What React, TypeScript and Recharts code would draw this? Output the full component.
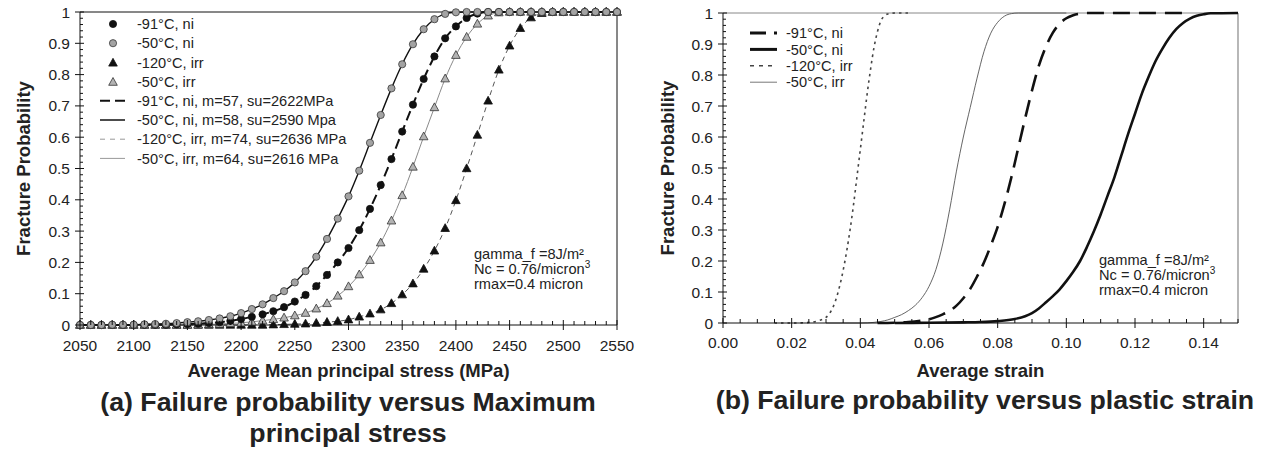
import React from 'react';
import { LineChart, Line, XAxis, YAxis, ReferenceLine, Legend } from 'recharts';

const FONT = '"Liberation Sans", Arial, Helvetica, sans-serif';
const TXT = '#222';

// ---------- Panel (a): stress categories (MPa) ----------
const stressCategories = [
  2050, 2060, 2070, 2080, 2090, 2100, 2110, 2120, 2130, 2140,
  2150, 2160, 2170, 2180, 2190, 2200, 2210, 2220, 2230, 2240,
  2250, 2260, 2270, 2280, 2290, 2300, 2310, 2320, 2330, 2340,
  2350, 2360, 2370, 2380, 2390, 2400, 2410, 2420, 2430, 2440,
  2450, 2460, 2470, 2480, 2490, 2500, 2510, 2520, 2530, 2540, 2550,
];

// -91°C, ni (black circles)
const probNi91 = [
  0, 0, 0, 0, 0, 0, 0.001, 0.001, 0.001, 0.002,
  0.003, 0.004, 0.006, 0.009, 0.013, 0.019, 0.026, 0.034, 0.044, 0.057,
  0.075, 0.096, 0.124, 0.160, 0.200, 0.246, 0.303, 0.371, 0.447, 0.530,
  0.618, 0.704, 0.786, 0.858, 0.916, 0.954, 0.981, 0.995, 1, 1,
  1, 1, 1, 1, 1, 1, 1, 1, 1, 1, 1,
];
// -50°C, ni (grey circles)
const probNi50 = [
  0, 0, 0, 0.001, 0.001, 0.001, 0.002, 0.003, 0.004, 0.006,
  0.009, 0.012, 0.016, 0.021, 0.028, 0.038, 0.051, 0.066, 0.086, 0.108,
  0.136, 0.172, 0.218, 0.275, 0.340, 0.411, 0.493, 0.582, 0.671, 0.756,
  0.833, 0.897, 0.945, 0.977, 0.994, 0.999, 1, 1, 1, 1,
  1, 1, 1, 1, 1, 1, 1, 1, 1, 1, 1,
];
// -120°C, irr (black triangles)
const probIrr120 = [
  0, 0, 0, 0, 0, 0, 0, 0, 0, 0,
  0, 0, 0, 0, 0, 0, 0, 0, 0.001, 0.002,
  0.003, 0.004, 0.006, 0.009, 0.012, 0.017, 0.026, 0.036, 0.049, 0.069,
  0.097, 0.132, 0.179, 0.237, 0.309, 0.398, 0.500, 0.607, 0.716, 0.815,
  0.892, 0.948, 0.982, 0.996, 1, 1, 1, 1, 1, 1, 1,
];
// -50°C, irr (grey triangles)
const probIrr50 = [
  0, 0, 0, 0, 0, 0, 0, 0, 0, 0,
  0, 0.001, 0.002, 0.003, 0.005, 0.007, 0.010, 0.014, 0.018, 0.023,
  0.030, 0.038, 0.052, 0.069, 0.093, 0.123, 0.161, 0.207, 0.263, 0.333,
  0.414, 0.505, 0.602, 0.695, 0.787, 0.862, 0.920, 0.962, 0.988, 0.998,
  1, 1, 1, 1, 1, 1, 1, 1, 1, 1, 1,
];

const stressMajorTicks = [2050, 2100, 2150, 2200, 2250, 2300, 2350, 2400, 2450, 2500, 2550];
const stressAllTicks = stressCategories;

const leftData = stressCategories.map((s, i) => ({
  stress: s,
  ni91: probNi91[i],
  ni50: probNi50[i],
  irr120: probIrr120[i],
  irr50: probIrr50[i],
}));

// ---------- Panel (b): strain curves ----------
const strainNi91 = [0.045, 0.050, 0.054, 0.058, 0.060, 0.062, 0.064, 0.066, 0.068, 0.070, 0.072, 0.074, 0.076, 0.078, 0.080, 0.082, 0.084, 0.086, 0.088, 0.090, 0.092, 0.094, 0.096, 0.098, 0.100, 0.102, 0.104, 0.106, 0.120, 0.135];
const curveNi91 = [0, 0.001, 0.003, 0.008, 0.012, 0.019, 0.028, 0.039, 0.056, 0.080, 0.110, 0.150, 0.195, 0.250, 0.310, 0.385, 0.470, 0.565, 0.660, 0.750, 0.830, 0.890, 0.935, 0.965, 0.983, 0.993, 0.998, 1, 1, 1];

const strainNi50 = [0.050, 0.060, 0.070, 0.075, 0.080, 0.085, 0.088, 0.090, 0.092, 0.094, 0.096, 0.098, 0.100, 0.102, 0.104, 0.106, 0.108, 0.110, 0.112, 0.114, 0.116, 0.118, 0.120, 0.122, 0.124, 0.126, 0.128, 0.130, 0.132, 0.134, 0.136, 0.138, 0.140, 0.142, 0.150];
const curveNi50 = [0, 0.001, 0.002, 0.003, 0.006, 0.013, 0.022, 0.032, 0.047, 0.066, 0.086, 0.108, 0.135, 0.165, 0.200, 0.245, 0.295, 0.350, 0.410, 0.470, 0.540, 0.610, 0.675, 0.740, 0.795, 0.845, 0.885, 0.920, 0.948, 0.968, 0.982, 0.991, 0.996, 0.999, 1];

const strainIrr120 = [0.015, 0.020, 0.024, 0.026, 0.028, 0.030, 0.031, 0.032, 0.033, 0.034, 0.035, 0.036, 0.037, 0.038, 0.039, 0.040, 0.041, 0.042, 0.043, 0.044, 0.045, 0.046, 0.047, 0.048, 0.050, 0.055];
const curveIrr120 = [0, 0, 0.001, 0.003, 0.008, 0.018, 0.030, 0.050, 0.080, 0.120, 0.170, 0.230, 0.300, 0.380, 0.470, 0.560, 0.650, 0.740, 0.820, 0.890, 0.940, 0.975, 0.990, 0.997, 1, 1];

const strainIrr50 = [0.030, 0.040, 0.044, 0.046, 0.048, 0.050, 0.052, 0.054, 0.056, 0.058, 0.060, 0.062, 0.064, 0.066, 0.068, 0.070, 0.072, 0.074, 0.076, 0.078, 0.080, 0.082, 0.084, 0.086, 0.100];
const curveIrr50 = [0, 0, 0.002, 0.005, 0.010, 0.018, 0.027, 0.040, 0.057, 0.082, 0.118, 0.172, 0.255, 0.365, 0.490, 0.600, 0.695, 0.790, 0.875, 0.935, 0.970, 0.990, 0.998, 1, 1];

const strainMajorTicks = [0, 0.02, 0.04, 0.06, 0.08, 0.1, 0.12, 0.14];
const strainAllTicks = Array.from({ length: 31 }, (_, i) => +(i * 0.005).toFixed(3));

const toPts = (xs: number[], ys: number[]) => xs.map((x, i) => ({ x, p: ys[i] }));
const dataNi91 = toPts(strainNi91, curveNi91);
const dataNi50 = toPts(strainNi50, curveNi50);
const dataIrr120 = toPts(strainIrr120, curveIrr120);
const dataIrr50 = toPts(strainIrr50, curveIrr50);

// ---------- shared probability ticks ----------
const probMajorTicks = [0, 0.1, 0.2, 0.3, 0.4, 0.5, 0.6, 0.7, 0.8, 0.9, 1];
const probAllTicks = Array.from({ length: 51 }, (_, i) => +(i * 0.02).toFixed(2));

const leftLegendLabels = [
  '-91°C, ni',
  '-50°C, ni',
  '-120°C, irr',
  '-50°C, irr',
  '-91°C, ni, m=57, su=2622MPa',
  '-50°C, ni, m=58, su=2590 Mpa',
  '-120°C, irr, m=74, su=2636 MPa',
  '-50°C, irr, m=64, su=2616 MPa',
];
const rightLegendLabels = ['-91°C, ni', '-50°C, ni', '-120°C, irr', '-50°C, irr'];
const noteLines = ['gamma_f =8J/m²', 'Nc = 0.76/micron', 'rmax=0.4 micron'];

// ---------- marker shapes ----------
function circlePath(cx: number, cy: number, fill: string, stroke: string, key?: any) {
  return <circle key={key} cx={cx} cy={cy} r={3.6} fill={fill} stroke={stroke} strokeWidth={0.8} />;
}
function triPath(cx: number, cy: number, fill: string, stroke: string, key?: any) {
  return (
    <polygon
      key={key}
      points={`${cx},${cy - 4.6} ${cx - 4.3},${cy + 3.2} ${cx + 4.3},${cy + 3.2}`}
      fill={fill}
      stroke={stroke}
      strokeWidth={0.8}
    />
  );
}
const dotBlackCircle = (p: any) => (p.cx == null ? <g key={p.index} /> : circlePath(p.cx, p.cy, '#111', '#111', p.index));
const dotGreyCircle = (p: any) => (p.cx == null ? <g key={p.index} /> : circlePath(p.cx, p.cy, '#a3a3a3', '#3a3a3a', p.index));
const dotBlackTri = (p: any) => (p.cx == null ? <g key={p.index} /> : triPath(p.cx, p.cy, '#111', '#111', p.index));
const dotGreyTri = (p: any) => (p.cx == null ? <g key={p.index} /> : triPath(p.cx, p.cy, '#b3b3b3', '#333', p.index));

// ---------- tick renderers ----------
function StressTick(props: any) {
  const { x, y, payload } = props;
  const v = payload.value;
  const major = stressMajorTicks.includes(v);
  return (
    <g>
      <line x1={x} x2={x} y1={major ? y - 5 : y - 4} y2={major ? y + 5 : y} stroke="#111" strokeWidth={1} />
      {major && (
        <text x={x} y={y + 26} textAnchor="middle" fontSize={15.5} fill={TXT} fontFamily={FONT}>
          {String(v)}
        </text>
      )}
    </g>
  );
}
function StrainTick(props: any) {
  const { x, y, payload } = props;
  const v = payload.value;
  const major = strainMajorTicks.some((m) => Math.abs(m - v) < 1e-6);
  return (
    <g>
      <line x1={x} x2={x} y1={major ? y - 5 : y - 4} y2={major ? y + 5 : y} stroke="#111" strokeWidth={1} />
      {major && (
        <text x={x} y={y + 25} textAnchor="middle" fontSize={15.5} fill={TXT} fontFamily={FONT}>
          {v.toFixed(2)}
        </text>
      )}
    </g>
  );
}
function ProbTick(props: any) {
  const { x, y, payload } = props;
  const v = payload.value;
  const major = probMajorTicks.some((m) => Math.abs(m - v) < 1e-6);
  return (
    <g>
      <line x1={major ? x - 5 : x} x2={major ? x + 4 : x + 3} y1={y} y2={y} stroke="#111" strokeWidth={1} />
      {major && (
        <text x={x - 10} y={y} dy="0.36em" textAnchor="end" fontSize={15.5} fill={TXT} fontFamily={FONT}>
          {String(v)}
        </text>
      )}
    </g>
  );
}

// ---------- legends ----------
function LeftLegend() {
  const rowY = (i: number) => 14 + i * 19.2;
  const tx = 42;
  return (
    <svg width={280} height={170} style={{ overflow: 'visible' }}>
      {circlePath(18, rowY(0), '#111', '#111')}
      {circlePath(18, rowY(1), '#a3a3a3', '#3a3a3a')}
      {triPath(18, rowY(2) + 0.5, '#111', '#111')}
      {triPath(18, rowY(3) + 0.5, '#b3b3b3', '#333')}
      <line x1={5} x2={30} y1={rowY(4)} y2={rowY(4)} stroke="#111" strokeWidth={2} strokeDasharray="10 5" />
      <line x1={5} x2={30} y1={rowY(5)} y2={rowY(5)} stroke="#111" strokeWidth={1.5} />
      <line x1={5} x2={30} y1={rowY(6)} y2={rowY(6)} stroke="#999" strokeWidth={1} strokeDasharray="5 5" />
      <line x1={5} x2={30} y1={rowY(7)} y2={rowY(7)} stroke="#999" strokeWidth={1} />
      {leftLegendLabels.map((l, i) => (
        <text key={l} x={tx} y={rowY(i)} dy="0.35em" fontSize={14.6} fill={TXT} fontFamily={FONT}>
          {l}
        </text>
      ))}
    </svg>
  );
}
function RightLegend() {
  const rowY = (i: number) => 13 + i * 16.4;
  const tx = 46;
  return (
    <svg width={160} height={80} style={{ overflow: 'visible' }}>
      <line x1={10} x2={37} y1={rowY(0)} y2={rowY(0)} stroke="#111" strokeWidth={3} strokeDasharray="16 8" />
      <line x1={10} x2={37} y1={rowY(1)} y2={rowY(1)} stroke="#111" strokeWidth={3} />
      <line x1={10} x2={37} y1={rowY(2)} y2={rowY(2)} stroke="#444" strokeWidth={1.6} strokeDasharray="4 5" />
      <line x1={10} x2={37} y1={rowY(3)} y2={rowY(3)} stroke="#777" strokeWidth={1} />
      {rightLegendLabels.map((l, i) => (
        <text key={l} x={tx} y={rowY(i)} dy="0.35em" fontSize={14.6} fill={TXT} fontFamily={FONT}>
          {l}
        </text>
      ))}
    </svg>
  );
}

function Note({ x, y }: { x: number; y: number }) {
  return (
    <g fontFamily={FONT} fontSize={14.6} fill={TXT}>
      <text x={x} y={y}>{noteLines[0]}</text>
      <text x={x} y={y + 14.8}>
        {noteLines[1]}
        <tspan dy={-6} fontSize={10}>3</tspan>
      </text>
      <text x={x} y={y + 29.8}>{noteLines[2]}</text>
    </g>
  );
}

const xTitle = (text: string, dy: number) => (p: any) => {
  const vb = p.viewBox || {};
  return (
    <text x={vb.x + vb.width / 2} y={vb.y + dy} textAnchor="middle" fontSize={18.5} fontWeight="bold" fill={TXT} fontFamily={FONT}>
      {text}
    </text>
  );
};
const yTitle = (text: string, cxOff: number) => (p: any) => {
  const vb = p.viewBox || {};
  const cx = vb.x + cxOff;
  const cy = vb.y + vb.height / 2;
  return (
    <text
      x={cx}
      y={cy}
      transform={`rotate(-90 ${cx} ${cy})`}
      textAnchor="middle"
      dominantBaseline="central"
      fontSize={18.5}
      fontWeight="bold"
      fill={TXT}
      fontFamily={FONT}
    >
      {text}
    </text>
  );
};

export default function App() {
  return (
    <div style={{ position: 'absolute', left: 0, top: 0, width: 1266, height: 454, background: '#fff', fontFamily: FONT }}>
      {/* Panel (a) */}
      <div style={{ position: 'absolute', left: 0, top: 0 }}>
        <LineChart width={640} height={454} data={leftData} margin={{ top: 12, right: 23, bottom: 89, left: 10 }}>
          <XAxis
            dataKey="stress"
            type="number"
            domain={[2050, 2550]}
            ticks={stressAllTicks}
            interval={0}
            tickSize={0}
            tickMargin={0}
            tickLine={false}
            tick={<StressTick />}
            height={40}
            axisLine={{ stroke: '#111' }}
            label={{ content: xTitle('Average Mean principal stress (MPa)', 52) }}
          />
          <YAxis
            type="number"
            domain={[0, 1]}
            ticks={probAllTicks}
            interval={0}
            tickSize={0}
            tickMargin={0}
            tickLine={false}
            tick={<ProbTick />}
            width={70}
            axisLine={{ stroke: '#111' }}
            label={{ content: yTitle('Fracture Probability', 13) }}
          />
          <ReferenceLine y={1} stroke="#111" strokeWidth={1} />
          <ReferenceLine x={2550} stroke="#111" strokeWidth={1} />
          <Line type="monotone" dataKey="irr120" stroke="#555" strokeWidth={1} strokeDasharray="5 4" dot={dotBlackTri} isAnimationActive={false} />
          <Line type="monotone" dataKey="irr50" stroke="#8a8a8a" strokeWidth={1} dot={dotGreyTri} isAnimationActive={false} />
          <Line type="monotone" dataKey="ni91" stroke="#111" strokeWidth={2} strokeDasharray="10 5" dot={dotBlackCircle} isAnimationActive={false} />
          <Line type="monotone" dataKey="ni50" stroke="#111" strokeWidth={1.4} dot={dotGreyCircle} isAnimationActive={false} />
          <Legend
            layout="horizontal"
            verticalAlign="middle"
            align="center"
            content={() => <LeftLegend />}
            wrapperStyle={{ left: 95, top: 10, width: 280, height: 170, bottom: 'auto', right: 'auto' }}
          />
        </LineChart>
      </div>

      {/* Panel (b) */}
      <div style={{ position: 'absolute', left: 640, top: 0 }}>
        <LineChart width={626} height={454} margin={{ top: 13, right: 28, bottom: 91, left: 10 }}>
          <XAxis
            dataKey="x"
            type="number"
            domain={[0, 0.15]}
            ticks={strainAllTicks}
            interval={0}
            tickSize={0}
            tickMargin={0}
            tickLine={false}
            tick={<StrainTick />}
            height={40}
            axisLine={{ stroke: '#111' }}
            allowDuplicatedCategory={false}
            label={{ content: xTitle('Average strain', 54) }}
          />
          <YAxis
            type="number"
            domain={[0, 1]}
            ticks={probAllTicks}
            interval={0}
            tickSize={0}
            tickMargin={0}
            tickLine={false}
            tick={<ProbTick />}
            width={73}
            axisLine={{ stroke: '#111' }}
            label={{ content: yTitle('Fracture Probability', 17.5) }}
          />
          <ReferenceLine y={1} stroke="#888" strokeWidth={1} />
          <ReferenceLine x={0.15} stroke="#888" strokeWidth={1.2} />
          <Line data={dataIrr120} type="monotone" dataKey="p" stroke="#444" strokeWidth={1.6} strokeDasharray="2.5 4" dot={false} isAnimationActive={false} />
          <Line data={dataIrr50} type="monotone" dataKey="p" stroke="#555" strokeWidth={0.9} dot={false} isAnimationActive={false} />
          <Line data={dataNi91} type="monotone" dataKey="p" stroke="#111" strokeWidth={2.6} strokeDasharray="17 9" dot={false} isAnimationActive={false} />
          <Line data={dataNi50} type="monotone" dataKey="p" stroke="#111" strokeWidth={2.6} dot={false} isAnimationActive={false} />
          <Legend
            layout="horizontal"
            verticalAlign="middle"
            align="center"
            content={() => <RightLegend />}
            wrapperStyle={{ left: 100, top: 20, width: 160, height: 80, bottom: 'auto', right: 'auto' }}
          />
        </LineChart>
      </div>

      {/* annotations */}
      <svg width={1266} height={454} style={{ position: 'absolute', left: 0, top: 0, pointerEvents: 'none' }}>
        <Note x={474} y={259} />
        <Note x={1099} y={265} />
      </svg>

      {/* captions */}
      <div
        style={{
          position: 'absolute',
          left: 48,
          top: 387,
          width: 600,
          textAlign: 'center',
          fontSize: 26.7,
          lineHeight: '31px',
          fontWeight: 'bold',
          color: TXT,
        }}
      >
        (a) Failure probability versus Maximum
        <br />
        principal stress
      </div>
      <div
        style={{
          position: 'absolute',
          left: 685,
          top: 385,
          width: 600,
          textAlign: 'center',
          fontSize: 26.7,
          lineHeight: '31px',
          fontWeight: 'bold',
          color: TXT,
        }}
      >
        (b) Failure probability versus plastic strain
      </div>
    </div>
  );
}
